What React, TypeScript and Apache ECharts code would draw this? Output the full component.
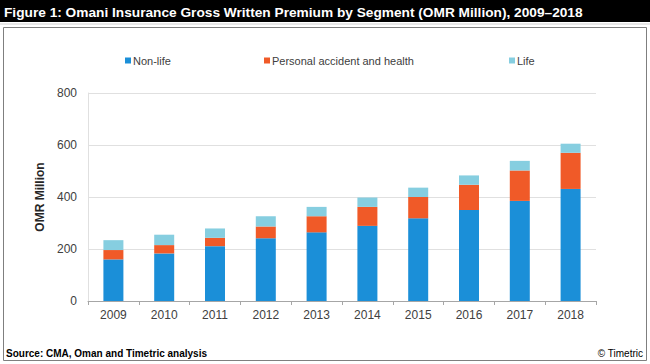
import React, { useEffect, useRef } from "react";
import * as echarts from "echarts";

const years = ["2009", "2010", "2011", "2012", "2013", "2014", "2015", "2016", "2017", "2018"];
const nonLife = [160, 183, 211, 241, 264, 289, 318, 350, 385, 431];
const personalAccident = [36, 32, 32, 46, 62, 73, 82, 97, 117, 139];
const life = [38, 40, 36, 39, 36, 36, 36, 36, 37, 35];
const yTicks = { min: 0, max: 800, interval: 200 };

const titleText = "Figure 1: Omani Insurance Gross Written Premium by Segment (OMR Million), 2009\u20132018";
const sourceText = "Source: CMA, Oman and Timetric analysis";
const copyText = "\u00A9 Timetric";

const FONT = "'Liberation Sans', Arial, sans-serif";
const NARROW = "'Liberation Sans Narrow', 'Arial Narrow', 'Liberation Sans', Arial, sans-serif";

export default function App() {
  const ref = useRef<HTMLDivElement>(null);
  useEffect(() => {
    if (!ref.current) return;
    const chart = echarts.init(ref.current, undefined, { renderer: "svg" });
    const legendBase = {
      top: 50,
      icon: "rect",
      itemWidth: 6,
      itemHeight: 6,
      itemGap: 4,
      textStyle: { fontSize: 11, color: "#404040", fontFamily: FONT, padding: [0, 0, 0, -3] },
      selectedMode: false as const,
    };
    chart.setOption({
      animation: false,
      backgroundColor: "#ffffff",
      textStyle: { fontFamily: FONT },
      legend: [
        { ...legendBase, left: 120, data: ["Non-life"] },
        { ...legendBase, left: 259, data: ["Personal accident and health"] },
        { ...legendBase, left: 504, data: ["Life"] },
      ],
      grid: { left: 88, right: 54, top: 93, bottom: 63 },
      xAxis: {
        type: "category",
        data: years,
        axisLine: { show: true, lineStyle: { color: "#a6a6a6" } },
        axisTick: { show: true, length: 4, lineStyle: { color: "#a6a6a6" } },
        axisLabel: { color: "#404040", fontSize: 12, margin: 8, fontFamily: FONT },
      },
      yAxis: {
        type: "value",
        min: yTicks.min,
        max: yTicks.max,
        interval: yTicks.interval,
        name: "OMR Million",
        nameLocation: "middle",
        nameGap: 42,
        nameTextStyle: { fontWeight: "bold", fontSize: 12, color: "#262626", fontFamily: FONT },
        axisLine: { show: true, lineStyle: { color: "#e0e0e0" } },
        axisTick: { show: false },
        axisLabel: { color: "#404040", fontSize: 12, margin: 11, fontFamily: FONT },
        splitLine: { lineStyle: { color: "#e0e0e0" } },
      },
      series: [
        { name: "Non-life", type: "bar", stack: "a", data: nonLife, barWidth: 20, itemStyle: { color: "#1b8fd8" } },
        { name: "Personal accident and health", type: "bar", stack: "a", data: personalAccident, itemStyle: { color: "#f05a28" } },
        { name: "Life", type: "bar", stack: "a", data: life, itemStyle: { color: "#86cee0" } },
      ],
      graphic: [
        { type: "rect", shape: { x: 0, y: 0, width: 650, height: 22 }, style: { fill: "#000000" }, silent: true },
        { type: "line", shape: { x1: 0, y1: 24, x2: 650, y2: 24 }, style: { stroke: "#d0d0d0", lineWidth: 1 }, silent: true },
        { type: "rect", shape: { x: 3.5, y: 27.5, width: 643, height: 333 }, style: { fill: "none", stroke: "#7f7f7f", lineWidth: 1 }, silent: true },
        {
          type: "text",
          x: 4,
          y: 12,
          style: { text: titleText, fill: "#ffffff", font: `bold 13.7px ${NARROW}`, textVerticalAlign: "middle" },
          silent: true,
        },
        {
          type: "text",
          x: 6,
          y: 353,
          style: { text: sourceText, fill: "#000000", font: `bold 10px ${FONT}`, textVerticalAlign: "middle" },
          silent: true,
        },
        {
          type: "text",
          x: 643,
          y: 353,
          style: { text: copyText, fill: "#000000", font: `10px ${FONT}`, textAlign: "right", textVerticalAlign: "middle" },
          silent: true,
        },
      ],
    });
    return () => chart.dispose();
  }, []);
  return <div ref={ref} style={{ position: "absolute", left: 0, top: 0, width: 650, height: 364 }} />;
}
